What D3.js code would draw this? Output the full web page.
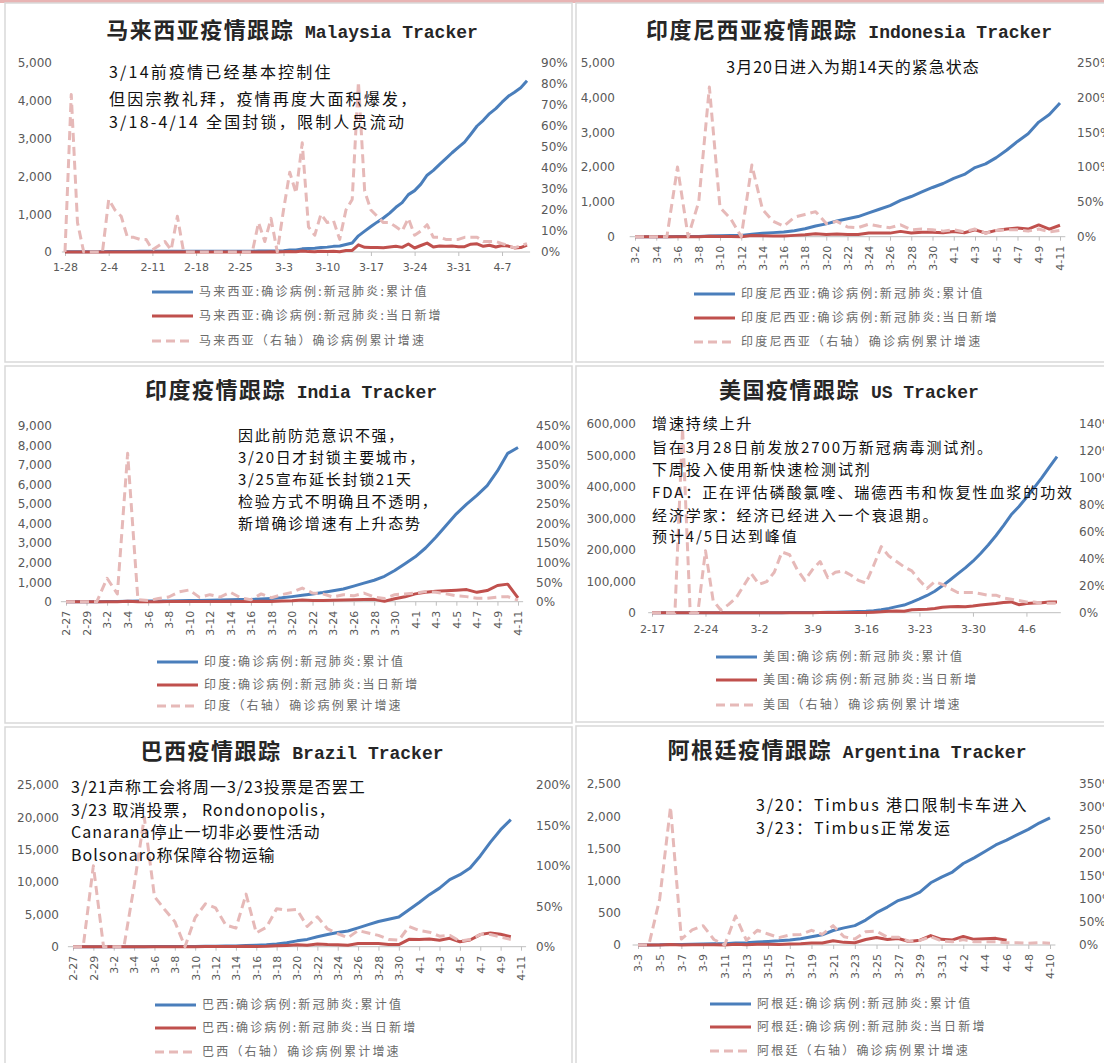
<!DOCTYPE html>
<html lang="zh">
<head>
<meta charset="utf-8">
<title>疫情跟踪</title>
<script src="https://d3js.org/d3.v7.min.js"></script>
<style>
  body{margin:0;background:#fff;}
  svg{display:block;}
  .title{white-space:pre;fill:#262626;}
  .title-cn{font-family:"Noto Sans CJK SC",sans-serif;font-size:22px;font-weight:700;letter-spacing:1.5px;}
  .title-en{font-family:"Liberation Mono","DejaVu Sans Mono",monospace;font-size:18px;font-weight:700;}
  .axis text{font-family:"DejaVu Sans",sans-serif;font-size:12px;fill:#595959;}
  .xaxis text{font-size:11px;}
  .note{font-family:"Noto Sans CJK SC",sans-serif;font-size:16px;fill:#111;}
  .legend{font-family:"Noto Sans CJK SC",sans-serif;font-size:12px;fill:#6b6b6b;letter-spacing:2.2px;}
</style>
</head>
<body>
<div id="chart"></div>
<script>
// ---------- Malaysia (1-28 .. 4-11) ----------
const myTicks = ['1-28','2-4','2-11','2-18','2-25','3-3','3-10','3-17','3-24','3-31','4-7'];
const myLeftTicks = [0,1000,2000,3000,4000,5000];
const myRightTicks = [0,10,20,30,40,50,60,70,80,90];
const myCum = [4,7,8,8,8,8,8,10,12,14, 15,16,17,18,18,19,19,19,22,22,
  22,22,22,22,22,22,22,22,22,22, 22,25,25,29,29,36,50,55,83,93,
  99,117,129,149,158,197,238,428,553,673, 790,900,1030,1183,1306,1518,1624,1796,2031,2161,
  2320,2470,2626,2766,2908,3116,3333,3483,3662,3793, 3963,4119,4228,4346,4530];
const myNew = [0,3,1,0,0,0,0,2,2,2, 1,1,1,1,0,1,0,0,3,0,
  0,0,0,0,0,0,0,0,0,0, 0,3,0,4,0,7,14,5,28,10,
  6,18,12,20,9,39,41,190,125,120, 117,110,130,153,123,212,106,172,235,130,
  159,150,156,140,142,208,217,150,179,131, 170,156,109,118,184];
const myGrowth = [0,75,14,0,0,0,0,25,20,17, 7,7,6,6,1,3,5,1,17,0,
  0,0,0,0,0,0,0,0,0,0, 0,14,5,16,0,20,38,28,52,12,
  8,18,14,15,6,20,25,81,29,20, 17,14,14,12,10,16,8,10,13,7,
  7,6,6,6,7,7,7,5,5,5, 4,3,2,3,4];
const myNotes = ['3/14前疫情已经基本控制住','但因宗教礼拜，疫情再度大面积爆发，','3/18-4/14 全国封锁，限制人员流动'];
const myLegend = ['马来西亚:确诊病例:新冠肺炎:累计值','马来西亚:确诊病例:新冠肺炎:当日新增','马来西亚（右轴）确诊病例累计增速'];

// ---------- Indonesia (3-2 .. 4-11) ----------
const idTicks = ['3-2','3-4','3-6','3-8','3-10','3-12','3-14','3-16','3-18','3-20','3-22','3-24','3-26','3-28','3-30','4-1','4-3','4-5','4-7','4-9','4-11'];
const idLeftTicks = [0,1000,2000,3000,4000,5000];
const idRightTicks = [0,50,100,150,200,250];
const idCum = [2,2,2,2,4,4,6,19,27,34, 34,69,96,117,134,172,227,309,369,450,
  514,579,686,790,893,1046,1155,1285,1414,1528, 1677,1790,1986,2092,2273,2491,2738,2956,3293,3512, 3842];
const idNew = [0,0,0,0,2,0,2,13,8,7, 0,35,27,21,17,38,55,82,60,81,
  64,65,107,104,103,153,109,130,129,114, 149,113,196,106,181,218,247,218,337,219, 330];
const idGrowth = [0,0,0,0,100,0,50,215,42,26, 0,103,39,22,15,28,32,36,19,22,
  14,13,18,15,13,17,10,11,10,8, 10,7,11,5,9,10,10,8,11,7, 9];
const idNotes = ['3月20日进入为期14天的紧急状态'];
const idLegend = ['印度尼西亚:确诊病例:新冠肺炎:累计值','印度尼西亚:确诊病例:新冠肺炎:当日新增','印度尼西亚（右轴）确诊病例累计增速'];

// ---------- India (2-27 .. 4-11) ----------
const inTicks = ['2-27','2-29','3-2','3-4','3-6','3-8','3-10','3-12','3-14','3-16','3-18','3-20','3-22','3-24','3-26','3-28','3-30','4-1','4-3','4-5','4-7','4-9','4-11'];
const inLeftTicks = [0,1000,2000,3000,4000,5000,6000,7000,8000,9000];
const inRightTicks = [0,50,100,150,200,250,300,350,400,450];
const inCum = [3,3,3,3,5,6,28,30,31,34, 39,43,56,62,73,82,102,113,119,142,
  170,200,260,330,400,470,560,650,800,950, 1100,1300,1600,1950,2300,2750,3300,3900,4500,5000,
  5450,5950,6700,7600,7900];
const inNew = [0,0,0,0,2,1,22,2,1,3, 5,4,13,6,11,9,20,11,6,23,
  14,38,50,86,66,60,75,90,100,110, 120,20,150,250,400,480,540,560,590,620,
  480,570,830,900,200];
const inGrowth = [0,0,0,0,60,20,380,5,3,8, 12,25,30,11,18,12,24,10,5,20,
  10,18,24,35,22,20,12,18,15,22, 12,8,18,20,22,26,24,20,15,13,
  9,9,12,13,4];
const inNotes = ['因此前防范意识不强，','3/20日才封锁主要城市，','3/25宣布延长封锁21天','检验方式不明确且不透明，','新增确诊增速有上升态势'];
const inLegend = ['印度:确诊病例:新冠肺炎:累计值','印度:确诊病例:新冠肺炎:当日新增','印度（右轴）确诊病例累计增速'];

// ---------- US (2-17 .. 4-10) ----------
const usTicks = ['2-17','2-24','3-2','3-9','3-16','3-23','3-30','4-6'];
const usLeftTicks = [0,100000,200000,300000,400000,500000,600000];
const usRightTicks = [0,20,40,60,80,100,120,140];
const usCum = [15,15,15,15,35,35,35,53,57,60, 62,64,68,75,100,124,158,221,319,435,
  541,704,994,1301,1630,2183,2770,3613,4596,6344, 9197,13779,19367,24192,33592,43781,54856,68211,85435,104126,
  123578,142460,163788,188461,215344,244678,277161,311357,336802,366317, 397121,428654,462780,496535];
const usNew = [0,0,0,0,20,0,0,18,4,3, 2,2,4,7,25,24,34,63,98,116,
  106,163,290,307,329,553,587,843,983,1748, 2853,4582,5588,4825,9400,10189,11075,13355,17224,18691,
  19452,18882,21328,24673,26883,29334,32483,34196,25445,29515, 30804,31533,34126,33755];
const usGrowth = [0,0,0,0,137,0,0,46,9,2, 6,11,20,29,21,23,30,45,43,32,
  24,32,38,26,30,31,28,24,22,35, 49,42,38,34,31,24,18,23,21,18,
  15,15,15,14,13,13,11,10,9,8, 8,7,7,7];
const usNotes = ['增速持续上升','旨在3月28日前发放2700万新冠病毒测试剂。','下周投入使用新快速检测试剂','FDA：正在评估磷酸氯喹、瑞德西韦和恢复性血浆的功效','经济学家：经济已经进入一个衰退期。','预计4/5日达到峰值'];
const usLegend = ['美国:确诊病例:新冠肺炎:累计值','美国:确诊病例:新冠肺炎:当日新增','美国（右轴）确诊病例累计增速'];

// ---------- Brazil (2-27 .. 4-11, data to 4-10) ----------
const brTicks = ['2-27','2-29','3-2','3-4','3-6','3-8','3-10','3-12','3-14','3-16','3-18','3-20','3-22','3-24','3-26','3-28','3-30','4-1','4-3','4-5','4-7','4-9','4-11'];
const brLeftTicks = [0,5000,10000,15000,20000,25000];
const brRightTicks = [0,50,100,150,200];
const brCum = [1,1,2,2,2,2,3,8,13,19, 25,25,34,52,77,98,121,200,234,291,
  428,621,904,1128,1546,1891,2201,2433,2915,3417, 3904,4256,4579,5717,6836,8044,9056,10360,11130,12161,
  14034,16170,18092,19638];
const brNew = [0,0,1,0,0,0,1,5,5,6, 6,0,9,18,25,21,23,79,34,57,
  137,193,283,224,418,345,310,232,482,502, 487,352,323,1138,1119,1208,1012,1304,770,1031,
  1873,2136,1922,1546];
const brGrowth = [0,0,100,0,0,0,75,160,62,46, 31,0,36,53,48,27,23,65,17,24,
  47,45,46,25,37,22,16,11,20,17, 14,9,8,25,20,18,13,14,7,9,
  15,15,12,9];
const brNotes = ['3/21声称工会将周一3/23投票是否罢工','3/23 取消投票， Rondonopolis，','Canarana停止一切非必要性活动','Bolsonaro称保障谷物运输'];
const brLegend = ['巴西:确诊病例:新冠肺炎:累计值','巴西:确诊病例:新冠肺炎:当日新增','巴西（右轴）确诊病例累计增速'];

// ---------- Argentina (3-3 .. 4-10) ----------
const arTicks = ['3-3','3-5','3-7','3-9','3-11','3-13','3-15','3-17','3-19','3-21','3-23','3-25','3-27','3-29','3-31','4-2','4-4','4-6','4-8','4-10'];
const arLeftTicks = [0,500,1000,1500,2000,2500];
const arRightTicks = [0,50,100,150,200,250,300,350];
const arCum = [1,1,2,8,9,12,17,19,19,31, 34,45,56,65,79,97,128,158,225,266,
  301,387,502,589,690,745,820,966,1054,1133, 1265,1353,1451,1554,1628,1715,1795,1894,1975];
const arNew = [0,0,1,6,1,3,5,2,0,12, 3,11,11,9,14,18,31,30,67,41,
  35,86,115,87,101,55,75,146,88,79, 132,88,98,103,74];
const arGrowth = [0,0,100,300,13,33,42,12,0,63, 10,32,24,16,22,23,32,23,42,18,
  13,29,30,17,17,8,10,18,9,7, 12,7,7,7,5,5,4,5,4];
const arNotes = ['3/20：Timbus 港口限制卡车进入','3/23：Timbus正常发运'];
const arLegend = ['阿根廷:确诊病例:新冠肺炎:累计值','阿根廷:确诊病例:新冠肺炎:当日新增','阿根廷（右轴）确诊病例累计增速'];

const BLUE = '#4A7EBB', RED = '#C0504D', PINK = '#E6B9B8';

const panels = [
  {title:['马来西亚疫情跟踪','Malaysia Tracker'], tx:292, ty:38, box:[5,3,567,359],
   start:'2020-01-28', n:75, xr:[65,527], yr:[252,63], lt:myLeftTicks, rt:myRightTicks,
   lx:52, rx:541, rotate:false, pad:7, ticks:myTicks, cum:myCum, daily:myNew, growth:myGrowth,
   notes:myNotes, nx:109, ny:[72,99,122], nSize:16, nAnchor:'start', nSpace:2.2,
   legend:myLegend, legX:152, legY:[292,316,341]},
  {title:['印度尼西亚疫情跟踪','Indonesia Tracker'], tx:849, ty:38, box:[576,3,540,359],
   start:'2020-03-02', n:41, xr:[635,1060], yr:[236.7,62.7], lt:idLeftTicks, rt:idRightTicks,
   lx:615, rx:1077, rotate:true, ticks:idTicks, cum:idCum, daily:idNew, growth:idGrowth,
   notes:idNotes, nx:853, ny:[67], nSize:16, nAnchor:'middle', nSpace:1,
   legend:idLegend, legX:694, legY:[294,318,342]},
  {title:['印度疫情跟踪','India Tracker'], tx:291, ty:398, box:[5,366,567,357],
   start:'2020-02-27', n:45, xr:[66,518], yr:[601.7,426], lt:inLeftTicks, rt:inRightTicks,
   lx:52, rx:536, rotate:true, ticks:inTicks, cum:inCum, daily:inNew, growth:inGrowth,
   notes:inNotes, nx:238, ny:[436,458,480,502,524], nSize:15, nAnchor:'start', nSpace:1.7,
   legend:inLegend, legX:157, legY:[662,685,706]},
  {title:['美国疫情跟踪','US Tracker'], tx:849, ty:398, box:[576,366,540,356],
   start:'2020-02-17', n:54, xr:[652,1057], yr:[612.7,424], lt:usLeftTicks, rt:usRightTicks,
   lx:636, rx:1079, rotate:false, pad:9, ticks:usTicks, cum:usCum, daily:usNew, growth:usGrowth,
   notes:usNotes, nx:652, ny:[424,448,470,493,516,537], nSize:15, nAnchor:'start', nSpace:1.9,
   legend:usLegend, legX:716, legY:[657,680,705]},
  {title:['巴西疫情跟踪','Brazil Tracker'], tx:292, ty:759, box:[5,727,567,340],
   start:'2020-02-27', n:45, xr:[73,521], yr:[946.7,785], lt:brLeftTicks, rt:brRightTicks,
   lx:59, rx:536, rotate:true, ticks:brTicks, cum:brCum, daily:brNew, growth:brGrowth,
   notes:brNotes, nx:71, ny:[787,810,832,855], nSize:16, nAnchor:'start', nSpace:1,
   legend:brLegend, legX:155, legY:[1005,1028,1052]},
  {title:['阿根廷疫情跟踪','Argentina Tracker'], tx:847, ty:758, box:[576,726,540,340],
   start:'2020-03-03', n:39, xr:[638,1050], yr:[945,784], lt:arLeftTicks, rt:arRightTicks,
   lx:621, rx:1079, rotate:true, ticks:arTicks, cum:arCum, daily:arNew, growth:arGrowth,
   notes:arNotes, nx:756, ny:[805,828], nSize:16, nAnchor:'start', nSpace:1.8,
   legend:arLegend, legX:710, legY:[1004,1027,1051]}
];

const fmtDay = d3.timeFormat('%-m-%-d');
function dayLabels(start, n) {
  const s = d3.timeParse('%Y-%m-%d')(start);
  return d3.timeDay.range(s, d3.timeDay.offset(s, n)).map(fmtDay);
}

const svg = d3.select('#chart').append('svg').attr('width', 1104).attr('height', 1063);
svg.append('rect').attr('x', 0).attr('y', 0).attr('width', 1104).attr('height', 3).attr('fill', '#e8b4b4');

panels.forEach(drawPanel);

function drawPanel(p) {
  const g = svg.append('g');
  g.append('rect').attr('x', p.box[0]).attr('y', p.box[1]).attr('width', p.box[2]).attr('height', p.box[3])
    .attr('fill', '#fff').attr('stroke', '#d9d9d9').attr('stroke-width', 1.5);

  const t = g.append('text').attr('class', 'title').attr('x', p.tx).attr('y', p.ty).attr('text-anchor', 'middle');
  t.append('tspan').attr('class', 'title-cn').text(p.title[0]);
  t.append('tspan').attr('class', 'title-en').text(' ' + p.title[1]);

  const cats = dayLabels(p.start, p.n);
  const x = d3.scaleLinear().domain([0, cats.length - 1]).range(p.xr);
  const yL = d3.scaleLinear().domain([0, d3.max(p.lt)]).range(p.yr);
  const yR = d3.scaleLinear().domain([0, d3.max(p.rt)]).range(p.yr);

  // left axis
  const la = g.append('g').attr('class', 'axis').attr('transform', `translate(${p.lx},0)`)
    .call(d3.axisLeft(yL).tickValues(p.lt).tickSize(0).tickPadding(0).tickFormat(d3.format(',')));
  la.select('.domain').remove();
  la.attr('font-family', null).attr('font-size', null);

  // right axis
  const ra = g.append('g').attr('class', 'axis').attr('transform', `translate(${p.rx},0)`)
    .call(d3.axisRight(yR).tickValues(p.rt).tickSize(0).tickPadding(0).tickFormat(d => d + '%'));
  ra.select('.domain').remove();
  ra.attr('font-family', null).attr('font-size', null);

  // category axis
  g.append('line').attr('x1', x(-0.5)).attr('x2', x(cats.length - 0.5))
    .attr('y1', p.yr[0]).attr('y2', p.yr[0]).attr('stroke', '#bfbfbf').attr('stroke-width', 1);
  const idx = p.ticks.map(l => cats.indexOf(l));
  const xa = g.append('g').attr('class', 'axis xaxis').attr('transform', `translate(0,${p.yr[0]})`)
    .call(d3.axisBottom(x).tickValues(idx).tickFormat(i => cats[i]).tickSize(4).tickSizeOuter(0).tickPadding(p.pad || 3));
  xa.select('.domain').remove();
  xa.attr('font-family', null).attr('font-size', null);
  xa.selectAll('line').attr('stroke', '#bfbfbf');
  if (p.rotate) {
    xa.selectAll('text').attr('transform', 'rotate(-90)').attr('text-anchor', 'end')
      .attr('x', -9).attr('y', 0).attr('dy', '0.35em');
  }

  // series
  const lineL = d3.line().x((d, i) => x(i)).y(d => yL(d));
  const lineR = d3.line().x((d, i) => x(i)).y(d => yR(d));
  g.append('path').datum(p.cum).attr('d', lineL).attr('fill', 'none')
    .attr('stroke', BLUE).attr('stroke-width', 3).attr('stroke-linejoin', 'round');
  g.append('path').datum(p.daily).attr('d', lineL).attr('fill', 'none')
    .attr('stroke', RED).attr('stroke-width', 3).attr('stroke-linejoin', 'round');
  g.append('path').datum(p.growth).attr('d', lineR).attr('fill', 'none')
    .attr('stroke', PINK).attr('stroke-width', 3).attr('stroke-dasharray', '9,5').attr('stroke-linejoin', 'round');

  // notes
  p.notes.forEach((s, k) => {
    g.append('text').attr('class', 'note').attr('x', p.nx).attr('y', p.ny[k]).attr('dy', '0.35em')
      .attr('text-anchor', p.nAnchor).style('font-size', p.nSize + 'px')
      .style('letter-spacing', p.nSpace + 'px').text(s);
  });

  // legend
  const styles = [{c: BLUE, dash: null}, {c: RED, dash: null}, {c: PINK, dash: '9,5'}];
  p.legend.forEach((s, k) => {
    const y = p.legY[k];
    g.append('line').attr('x1', p.legX).attr('x2', p.legX + 41).attr('y1', y).attr('y2', y)
      .attr('stroke', styles[k].c).attr('stroke-width', 3).attr('stroke-dasharray', styles[k].dash);
    g.append('text').attr('class', 'legend').attr('x', p.legX + 47).attr('y', y).attr('dy', '0.35em').text(s);
  });
}
</script>
</body>
</html>
